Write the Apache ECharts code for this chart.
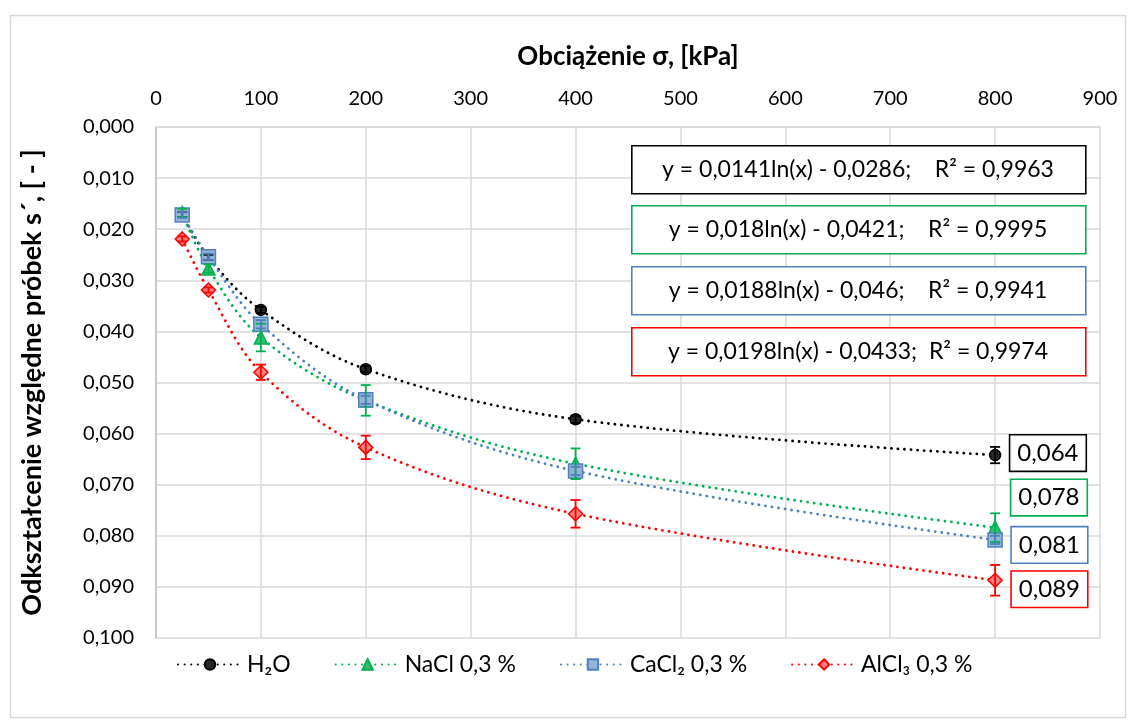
<!DOCTYPE html>
<html>
<head>
<meta charset="utf-8">
<script src="https://cdn.jsdelivr.net/npm/echarts@6/dist/echarts.min.js"></script>
<style>
html,body{margin:0;padding:0;background:#fff;}
#chart{width:1132px;height:723px;}
</style>
</head>
<body>
<div id="chart"></div>
<script>
// ---- data ----
const xValues = [25, 50, 100, 200, 400, 800];
const h2o   = [0.0171, 0.0255, 0.0358, 0.0474, 0.0572, 0.0642];
const nacl  = [0.0168, 0.0277, 0.0412, 0.0535, 0.0659, 0.0784];
const cacl2 = [0.0172, 0.0254, 0.0386, 0.0534, 0.0673, 0.0808];
const alcl3 = [0.0219, 0.0319, 0.0480, 0.0627, 0.0757, 0.0887];
const h2oErr   = [0.0005, 0.0005, 0.0006, 0.0006, 0.0007, 0.0016];
const naclErr  = [0.0008, 0.0008, 0.0027, 0.0030, 0.0030, 0.0028];
const cacl2Err = [0.0006, 0.0006, 0.0008, 0.0008, 0.0008, 0.0008];
const alcl3Err = [0.0005, 0.0005, 0.0015, 0.0023, 0.0027, 0.0030];
const seriesNames = ['H\u2082O', 'NaCl 0,3 %', 'CaCl\u2082 0,3 %', 'AlCl\u2083 0,3 %'];
const equations = [
  'y = 0,0141ln(x) - 0,0286;    R\u00b2 = 0,9963',
  'y = 0,018ln(x) - 0,0421;    R\u00b2 = 0,9995',
  'y = 0,0188ln(x) - 0,046;    R\u00b2 = 0,9941',
  'y = 0,0198ln(x) - 0,0433;  R\u00b2 = 0,9974'
];
const xAxisTitle = 'Obci\u0105\u017cenie \u03c3, [kPa]';
const yAxisTitle = 'Odkszta\u0142cenie wzgl\u0119dne pr\u00f3bek s\u00b4, [ - ]';

// ---- styles ----
const FONT = 'Lato, "Liberation Sans", sans-serif';
const colors = ['#000000', '#00b050', '#4f81bd', '#ff0000'];
const fills  = ['#262626', '#33c070', '#95b3d7', '#ff7f7f'];
const symbols = ['circle', 'triangle', 'rect', 'diamond'];
const symbolSizes = [11, 13, 14, 14];
const labelOffsets = [[0, -2], [0, -30], [0, 5], [0, 9]];
const allVals = [h2o, nacl, cacl2, alcl3];
const allErr = [h2oErr, naclErr, cacl2Err, alcl3Err];

const fmt = v => v.toFixed(3).replace('.', ',');

const lineSeries = allVals.map((vals, s) => ({
  name: seriesNames[s],
  type: 'line',
  z: 4,
  smooth: 0.35,
  symbol: symbols[s],
  symbolSize: symbolSizes[s],
  lineStyle: {color: colors[s], width: 2.8, type: [0.1, 6.5], cap: 'round'},
  itemStyle: {color: fills[s], borderColor: colors[s], borderWidth: 1.5},
  data: xValues.map((x, i) => {
    const item = {value: [x, vals[i]]};
    if (i === xValues.length - 1) {
      item.label = {
        show: true, position: 'right', distance: 9, offset: labelOffsets[s],
        formatter: p => fmt(p.value[1]),
        fontFamily: FONT, fontSize: 24, color: '#000',
        backgroundColor: '#fff', borderColor: colors[s], borderWidth: 1.6,
        padding: [6, 7, 5, 7]
      };
    }
    return item;
  })
}));

const errSeries = allVals.map((vals, s) => ({
  name: 'err' + s,
  type: 'custom',
  z: 5,
  silent: true,
  data: xValues.map((x, i) => [x, vals[i], allErr[s][i]]),
  renderItem: (params, api) => {
    const x = api.value(0), y = api.value(1), e = api.value(2);
    const top = api.coord([x, y - e]);
    const bot = api.coord([x, y + e]);
    const hw = 5;
    const st = {stroke: colors[s], lineWidth: 1.8};
    return {
      type: 'group',
      children: [
        {type: 'line', shape: {x1: top[0], y1: top[1], x2: bot[0], y2: bot[1]}, style: st},
        {type: 'line', shape: {x1: top[0] - hw, y1: top[1], x2: top[0] + hw, y2: top[1]}, style: st},
        {type: 'line', shape: {x1: bot[0] - hw, y1: bot[1], x2: bot[0] + hw, y2: bot[1]}, style: st}
      ]
    };
  }
}));

const eqGraphics = [];
const boxTop = [145, 205, 266, 327];
equations.forEach((t, s) => {
  eqGraphics.push({
    type: 'rect', left: 631, top: boxTop[s], z: 20,
    shape: {width: 454, height: 48},
    style: {fill: '#fff', stroke: colors[s], lineWidth: 1.6}
  });
  eqGraphics.push({
    type: 'text', x: 858, y: boxTop[s] + 25, z: 21,
    style: {text: t, fill: '#000', font: '23px ' + FONT, textAlign: 'center', textVerticalAlign: 'middle'}
  });
});

const chart = echarts.init(document.getElementById('chart'), null, {renderer: 'canvas'});
chart.setOption({
  animation: false,
  backgroundColor: '#fff',
  textStyle: {fontFamily: FONT},
  grid: {left: 156, right: 32, top: 127, bottom: 85, containLabel: false},
  xAxis: {
    type: 'value', position: 'top', min: 0, max: 900, interval: 100,
    name: xAxisTitle, nameLocation: 'middle', nameGap: 57,
    nameTextStyle: {fontFamily: FONT, fontSize: 26, fontWeight: 'bold', color: '#000'},
    axisLine: {show: true, lineStyle: {color: '#d9d9d9', width: 1.5}},
    axisTick: {show: false},
    axisLabel: {fontFamily: FONT, fontSize: 20, color: '#000', margin: 18},
    splitLine: {show: true, lineStyle: {color: '#d9d9d9', width: 1.5}}
  },
  yAxis: {
    type: 'value', inverse: true, min: 0, max: 0.1, interval: 0.01,
    name: yAxisTitle, nameLocation: 'middle', nameGap: 110, nameRotate: 90,
    nameTextStyle: {fontFamily: FONT, fontSize: 27, fontWeight: 'bold', color: '#000'},
    axisLine: {show: true, lineStyle: {color: '#bfbfbf', width: 1.5}},
    axisTick: {show: false},
    axisLabel: {fontFamily: FONT, fontSize: 20, color: '#000', margin: 22, formatter: v => fmt(v)},
    splitLine: {show: true, lineStyle: {color: '#d9d9d9', width: 1.5}}
  },
  legend: {
    data: seriesNames, top: 648, left: 172, itemWidth: 64, itemHeight: 13, itemGap: 44,
    textStyle: {fontFamily: FONT, fontSize: 23, color: '#000'}
  },
  graphic: [
    {type: 'rect', left: 8, top: 13, z: -10, silent: true,
     shape: {width: 1115, height: 702},
     style: {fill: 'none', stroke: '#d9d9d9', lineWidth: 1.5}}
  ].concat(eqGraphics),
  series: lineSeries.concat(errSeries)
});
</script>
</body>
</html>
